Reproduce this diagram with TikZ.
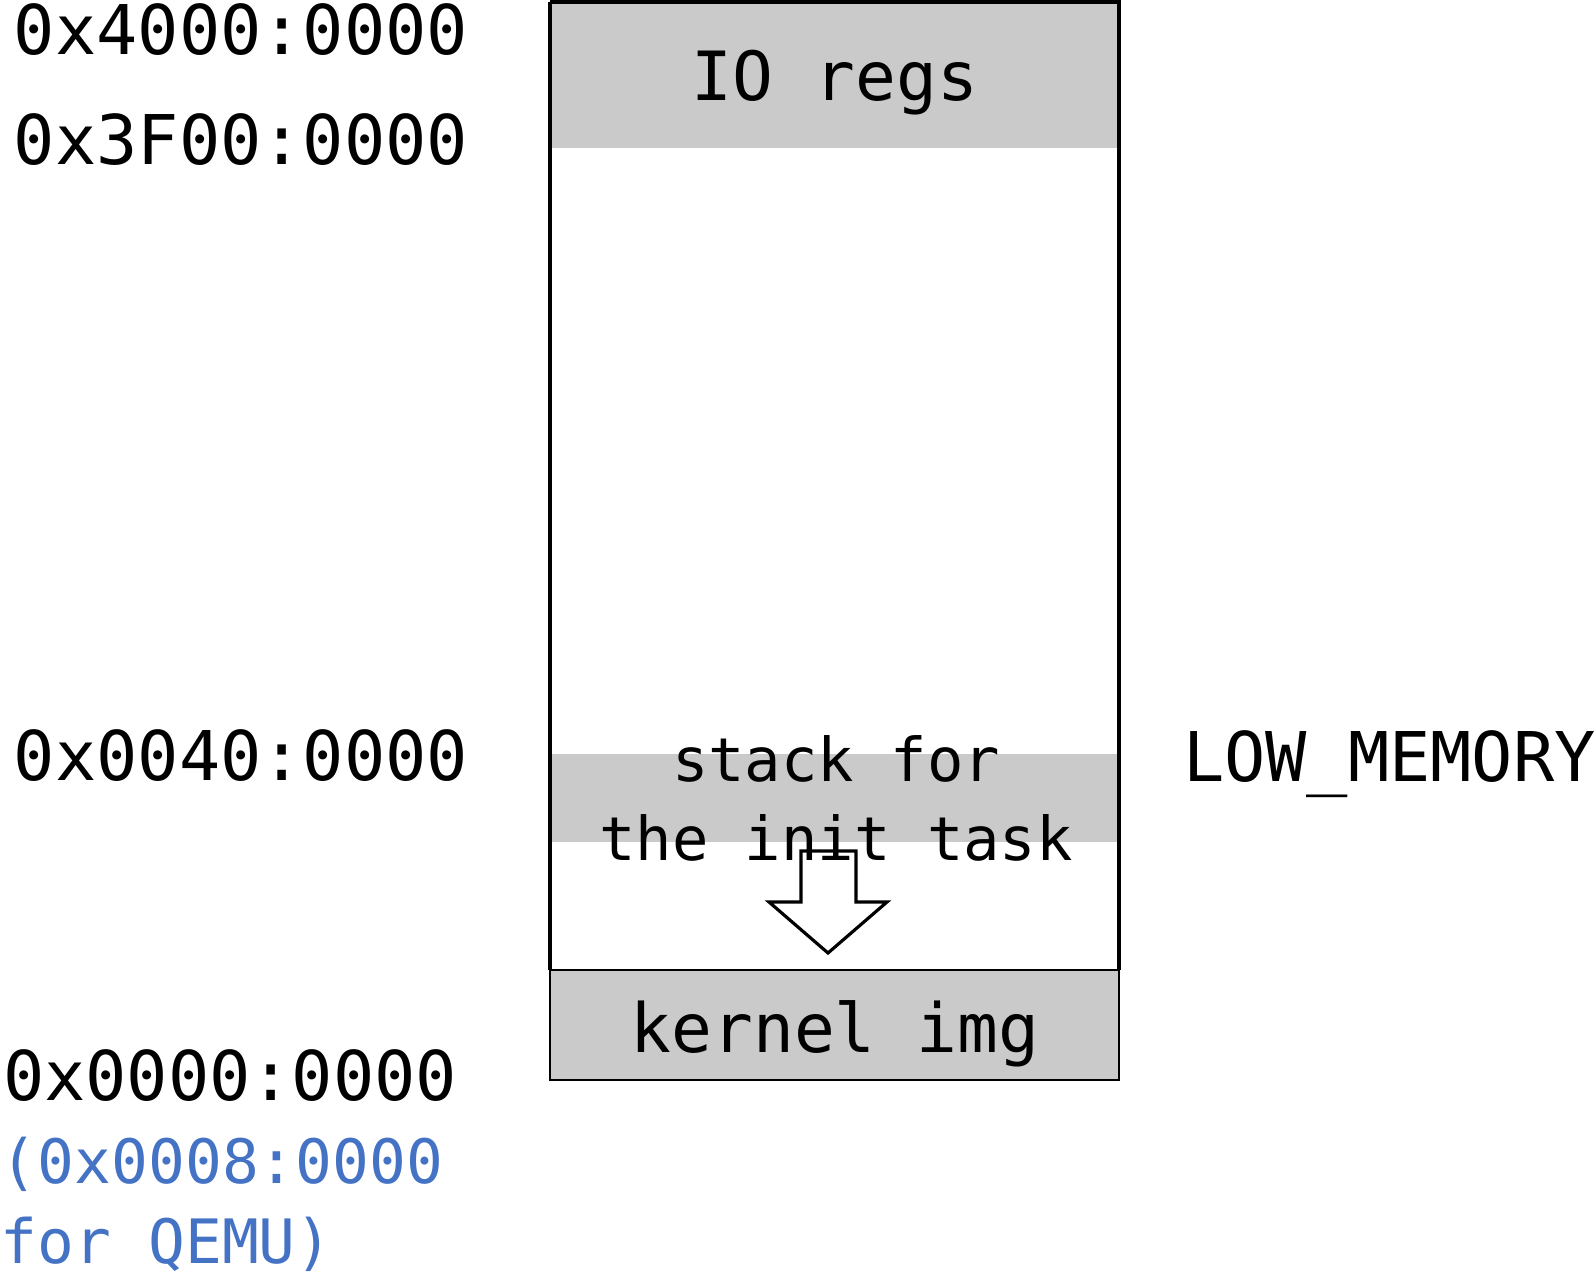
\documentclass[tikz,border=0pt]{standalone}
\usepackage{fontspec}
\newfontfamily\memfont{DejaVu Sans Mono}
\usetikzlibrary{positioning}

\begin{document}
\begin{tikzpicture}[x=0.01cm, y=-0.01cm,
    inner sep=0pt, outer sep=0pt,%
    addr/.style={font=\memfont\fontsize{19.5}{23}\selectfont, anchor=base west},
    qemu/.style={font=\memfont\fontsize{17.4}{21}\selectfont, anchor=base west, color=qemublue},
    areatext/.style={font=\memfont\fontsize{19.3}{22.2}\selectfont, anchor=base, align=center},
    stacktext/.style={font=\memfont\fontsize{17.2}{22.2}\selectfont, anchor=base, align=center},
    region/.style={fill=memgray, draw=none},
    frame/.style={draw=black, line width=1.1pt},
    growarrow/.style={draw=black, line width=0.9pt, line join=miter},
]
    % Colors
    \definecolor{memgray}{HTML}{CACACA}
    \definecolor{qemublue}{HTML}{4472C4}

    \useasboundingbox (0,0) rectangle (1596,1279);

    % Regions
    \fill[region] (551,3) rectangle (1118,148);
    \fill[region] (550,754) rectangle (1117,842);
    \draw[frame] (550,2) -- (550,970) (1119,970) -- (1119,2) -- (550,2);
    \draw[region, draw=black, line width=0.45pt] (550,970) rectangle (1119,1080);

    % Region texts
    \node[areatext] (io) at (835,101) {IO regs};
    \node[stacktext] (stack) at (836,860) {stack for\\the init task};
    \node[areatext] (kernel) at (835,1052) {kernel img};

    % Stack grows down
    \draw[growarrow] (801,851) -- (801,902) -- (769,902) -- (828,953)
        -- (887,902) -- (856,902) -- (856,851) -- cycle;

    % Addresses
    \node[addr] (top) at (14,55) {0x4000:0000};
    \node[addr] (iobase) at (14,165) {0x3F00:0000};
    \node[addr] (lowmem) at (14,780) {0x0040:0000};
    \node[addr] (zero) at (3,1100) {0x0000:0000};
    \node[qemu] (qemuone) at (1,1183) {(0x0008:0000};
    \node[qemu] (qemutwo) at (1,1263) {for QEMU)};
    \node[addr] (lowname) at (1183,781) {LOW\_MEMORY};
\end{tikzpicture}
\end{document}
